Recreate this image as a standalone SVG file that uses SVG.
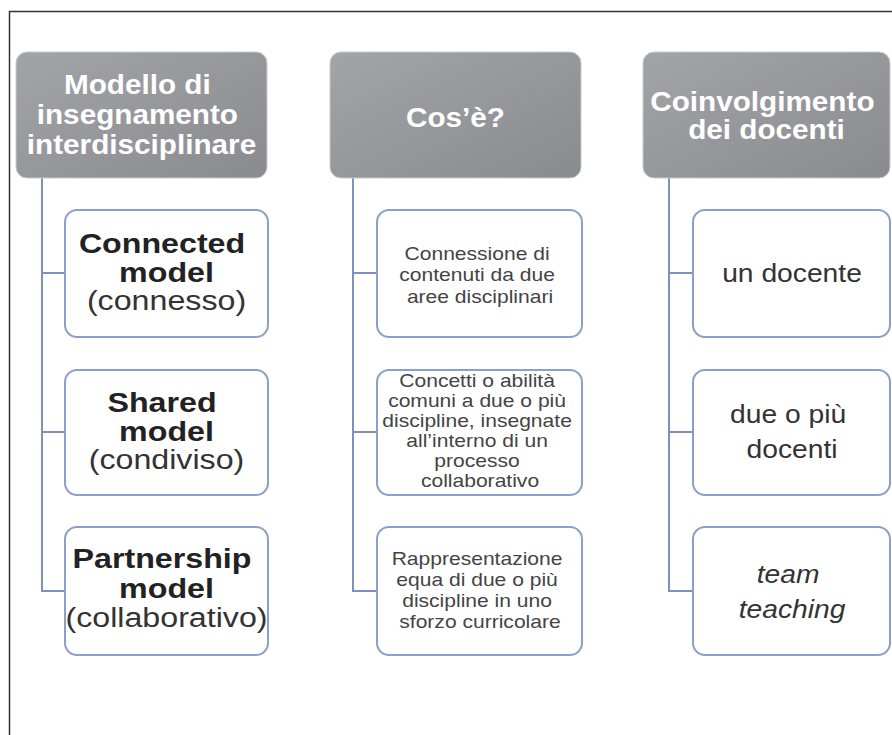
<svg xmlns="http://www.w3.org/2000/svg" width="892" height="735" viewBox="0 0 892 735">
  <defs>
    <linearGradient id="headFill" x1="0" y1="0" x2="1" y2="1">
      <stop offset="0" stop-color="#a3a4a8"/>
      <stop offset="1" stop-color="#8a8b8f"/>
    </linearGradient>
  </defs>
  <style>
    .head { fill: url(#headFill); stroke: #c9cacd; stroke-width: 1; }
    .box { fill: #ffffff; stroke: #8c9fcb; stroke-width: 2; }
    .link { fill: none; stroke: #8190b8; stroke-width: 2; }
    .frame { fill: none; stroke: #333333; stroke-width: 1.5; }
    text { font-family: "Liberation Sans", Arial, sans-serif; text-anchor: middle; }
    .ht { fill: #ffffff; font-size: 27px; font-weight: bold; }
    .mb { fill: #222222; font-size: 28px; font-weight: bold; }
    .mr { fill: #333333; font-size: 28px; }
    .st { fill: #444444; font-size: 18px; }
    .dt { fill: #333333; font-size: 25px; }
    .it { font-style: italic; }
  </style>

  <rect width="892" height="735" fill="#ffffff"/>

  <!-- page frame -->
  <path class="frame" d="M9.5 735 V11.5 H892"/>

  <!-- connectors -->
  <g id="connectors">
    <path class="link" d="M42 178 V591 H65 M42 273 H65 M42 432 H65"/>
    <path class="link" d="M353 178 V591 H377 M353 273 H377 M353 432 H377"/>
    <path class="link" d="M669 178 V591 H693 M669 273 H693 M669 432 H693"/>
  </g>

  <!-- column 1 -->
  <g id="head-modello">
    <rect class="head" x="16" y="52" width="251" height="126" rx="11"/>
    <text class="ht" transform="matrix(1.1 0 0 1 141.5 0)">
      <tspan x="0" y="94">Modello di</tspan>
      <tspan x="0" y="124">insegnamento</tspan>
      <tspan x="0" y="154">interdisciplinare</tspan>
    </text>
  </g>
  <g id="connected">
    <rect class="box" x="65" y="210" width="203" height="127" rx="12"/>
    <text class="mb" transform="matrix(1.15 0 0 1 166.5 0)">
      <tspan x="0" y="253">Connected</tspan>
      <tspan x="0" y="282">model</tspan>
    </text>
    <text class="mr" transform="matrix(1.15 0 0 1 166.5 0)"><tspan x="0" y="310">(connesso)</tspan></text>
  </g>
  <g id="shared">
    <rect class="box" x="65" y="370" width="203" height="125" rx="12"/>
    <text class="mb" transform="matrix(1.15 0 0 1 166.5 0)">
      <tspan x="0" y="412">Shared</tspan>
      <tspan x="0" y="441">model</tspan>
    </text>
    <text class="mr" transform="matrix(1.15 0 0 1 166.5 0)"><tspan x="0" y="469">(condiviso)</tspan></text>
  </g>
  <g id="partnership">
    <rect class="box" x="65" y="527" width="203" height="128" rx="12"/>
    <text class="mb" transform="matrix(1.15 0 0 1 166.5 0)">
      <tspan x="0" y="568">Partnership</tspan>
      <tspan x="0" y="598">model</tspan>
    </text>
    <text class="mr" transform="matrix(1.15 0 0 1 166.5 0)"><tspan x="0" y="627">(collaborativo)</tspan></text>
  </g>

  <!-- column 2 -->
  <g id="head-cose">
    <rect class="head" x="330" y="52" width="251" height="126" rx="11"/>
    <text class="ht" transform="matrix(1.1 0 0 1 455.5 0)"><tspan x="0" y="127">Cos’è?</tspan></text>
  </g>
  <g id="def-connected">
    <rect class="box" x="377" y="210" width="205" height="127" rx="12"/>
    <text class="st" transform="matrix(1.17 0 0 1 480 0)">
      <tspan x="0" y="260">Connessione di</tspan>
      <tspan x="0" y="281.5">contenuti da due</tspan>
      <tspan x="0" y="303">aree disciplinari</tspan>
    </text>
  </g>
  <g id="def-shared">
    <rect class="box" x="377" y="370" width="205" height="125" rx="12"/>
    <text class="st" transform="matrix(1.17 0 0 1 480 0)">
      <tspan x="0" y="387">Concetti o abilità</tspan>
      <tspan x="0" y="407">comuni a due o più</tspan>
      <tspan x="0" y="427">discipline, insegnate</tspan>
      <tspan x="0" y="447">all’interno di un</tspan>
      <tspan x="0" y="467">processo</tspan>
      <tspan x="0" y="487">collaborativo</tspan>
    </text>
  </g>
  <g id="def-partnership">
    <rect class="box" x="377" y="527" width="205" height="128" rx="12"/>
    <text class="st" transform="matrix(1.17 0 0 1 480 0)">
      <tspan x="0" y="565">Rappresentazione</tspan>
      <tspan x="0" y="586">equa di due o più</tspan>
      <tspan x="0" y="607">discipline in uno</tspan>
      <tspan x="0" y="628">sforzo curricolare</tspan>
    </text>
  </g>

  <!-- column 3 -->
  <g id="head-docenti">
    <rect class="head" x="643" y="52" width="247" height="126" rx="11"/>
    <text class="ht" transform="matrix(1.1 0 0 1 766.5 0)">
      <tspan x="0" y="111">Coinvolgimento</tspan>
      <tspan x="0" y="139">dei docenti</tspan>
    </text>
  </g>
  <g id="one-teacher">
    <rect class="box" x="693" y="210" width="197" height="127" rx="12"/>
    <text class="dt" transform="matrix(1.13 0 0 1 792 0)"><tspan x="0" y="282">un docente</tspan></text>
  </g>
  <g id="more-teachers">
    <rect class="box" x="693" y="370" width="197" height="125" rx="12"/>
    <text class="dt" transform="matrix(1.13 0 0 1 792 0)">
      <tspan x="0" y="423">due o più</tspan>
      <tspan x="0" y="458">docenti</tspan>
    </text>
  </g>
  <g id="team-teaching">
    <rect class="box" x="693" y="527" width="197" height="128" rx="12"/>
    <text class="dt it" transform="matrix(1.13 0 0 1 792 0)">
      <tspan x="0" y="583">team</tspan>
      <tspan x="0" y="618">teaching</tspan>
    </text>
  </g>
</svg>
